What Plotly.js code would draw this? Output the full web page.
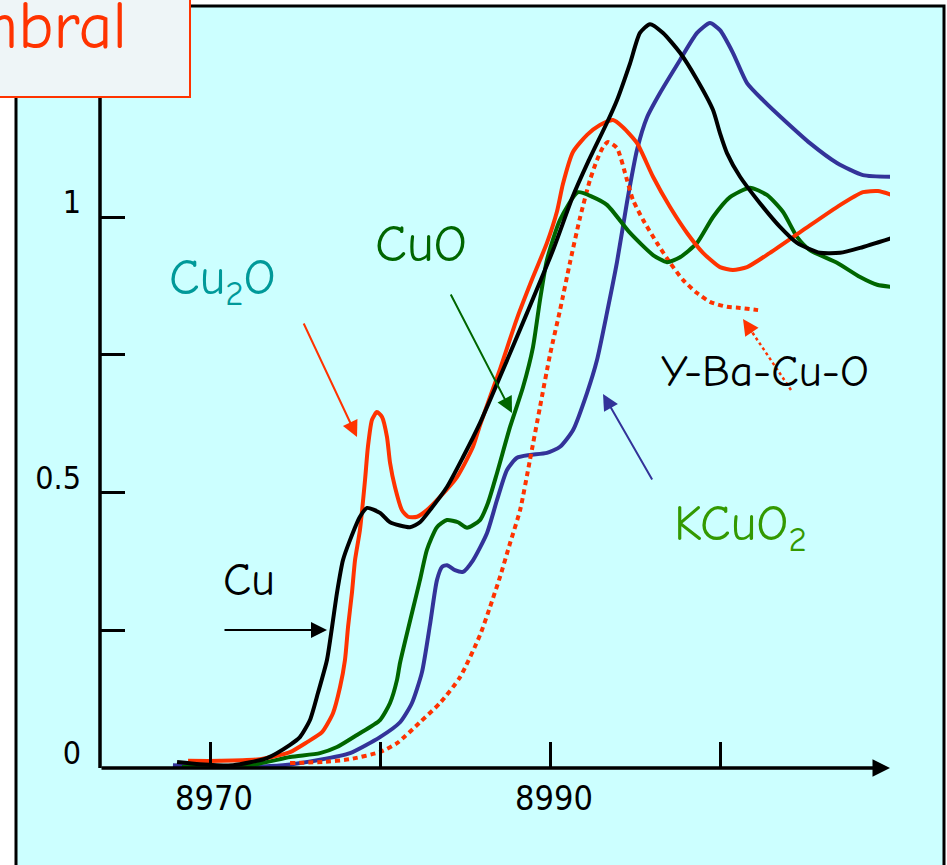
<!DOCTYPE html>
<html>
<head>
<meta charset="utf-8">
<script src="https://cdn.plot.ly/plotly-3.0.1.min.js"></script>
<style>html,body{margin:0;padding:0;background:#fff;}#chart{width:947px;height:865px;}</style>
</head>
<body>
<div id="chart"></div>
<script>
// ---- data (energy in eV, normalised absorption) ----
const cuX = [8968.06, 8969.41, 8971.35, 8973.35, 8974.71, 8975.29, 8975.88, 8976.35, 8976.88, 8977.18, 8977.47, 8977.82, 8978.24, 8978.82, 8979.24, 8980.0, 8980.59, 8981.76, 8982.35, 8982.94, 8983.94, 8984.88, 8985.88, 8987.06, 8988.65, 8990.18, 8991.35, 8992.24, 8993.35, 8993.94, 8994.71, 8995.29, 8995.88, 8996.65, 8997.65, 8998.65, 8999.59, 9000.0, 9000.41, 9001.18, 9002.35, 9003.53, 9004.53, 9005.88, 9007.06, 9008.24, 9010.12];
const cuY = [0.011, 0.007, 0.005, 0.018, 0.042, 0.056, 0.087, 0.136, 0.196, 0.256, 0.318, 0.377, 0.414, 0.456, 0.472, 0.463, 0.446, 0.437, 0.446, 0.468, 0.510, 0.564, 0.626, 0.710, 0.826, 0.940, 1.038, 1.100, 1.171, 1.212, 1.279, 1.334, 1.350, 1.334, 1.298, 1.249, 1.194, 1.152, 1.116, 1.073, 1.025, 0.982, 0.953, 0.935, 0.935, 0.944, 0.962];

const cu2oX = [8968.71, 8970.59, 8972.94, 8974.71, 8975.71, 8976.59, 8977.24, 8977.65, 8977.94, 8978.12, 8978.35, 8978.53, 8978.82, 8979.12, 8979.29, 8979.53, 8979.82, 8980.12, 8980.41, 8980.59, 8980.88, 8981.29, 8981.65, 8982.18, 8982.76, 8983.53, 8984.53, 8985.47, 8985.88, 8987.06, 8988.06, 8989.0, 8989.82, 8990.41, 8990.76, 8991.35, 8992.18, 8992.94, 8993.71, 8994.29, 8995.12, 8996.06, 8997.06, 8998.06, 8999.0, 9000.0, 9000.76, 9001.59, 9002.94, 9004.88, 9006.88, 9008.41, 9009.29, 9010.12];
const cu2oY = [0.013, 0.013, 0.016, 0.029, 0.047, 0.065, 0.100, 0.147, 0.196, 0.256, 0.318, 0.377, 0.432, 0.523, 0.583, 0.632, 0.646, 0.637, 0.601, 0.554, 0.510, 0.468, 0.456, 0.456, 0.468, 0.492, 0.528, 0.583, 0.622, 0.724, 0.816, 0.891, 0.953, 1.010, 1.060, 1.118, 1.149, 1.167, 1.176, 1.163, 1.134, 1.073, 1.018, 0.971, 0.935, 0.909, 0.904, 0.909, 0.935, 0.976, 1.018, 1.045, 1.047, 1.040];

const cuoX = [8968.35, 8972.35, 8974.71, 8976.47, 8977.47, 8978.65, 8980.0, 8980.59, 8981.0, 8981.18, 8982.35, 8982.76, 8983.35, 8983.94, 8984.59, 8985.12, 8985.88, 8986.35, 8986.88, 8987.65, 8988.41, 8989.0, 8989.41, 8989.82, 8990.59, 8991.65, 8992.53, 8993.35, 8994.71, 8996.06, 8996.88, 8997.65, 8998.65, 8999.59, 9000.59, 9001.76, 9002.76, 9003.71, 9004.53, 9005.29, 9006.88, 9008.24, 9009.24, 9010.12];
const cuoY = [0.002, 0.005, 0.020, 0.027, 0.038, 0.060, 0.087, 0.118, 0.160, 0.191, 0.341, 0.396, 0.437, 0.450, 0.446, 0.436, 0.450, 0.481, 0.535, 0.619, 0.691, 0.764, 0.849, 0.922, 0.995, 1.045, 1.036, 1.022, 0.971, 0.931, 0.918, 0.927, 0.953, 1.000, 1.036, 1.053, 1.040, 1.009, 0.964, 0.940, 0.917, 0.891, 0.877, 0.873];

const kcuo2X = [8967.82, 8971.18, 8974.29, 8976.47, 8978.24, 8980.0, 8981.18, 8981.88, 8982.47, 8982.94, 8983.35, 8983.65, 8983.94, 8984.41, 8984.88, 8985.47, 8986.29, 8986.88, 8987.47, 8988.06, 8988.82, 8989.82, 8990.59, 8991.35, 8992.18, 8992.76, 8993.35, 8993.94, 8994.53, 8995.12, 8995.71, 8996.47, 8997.65, 8998.65, 8999.41, 9000.0, 9000.76, 9001.59, 9002.53, 9003.94, 9005.29, 9006.88, 9008.41, 9010.12];
const kcuo2Y = [0.005, 0.002, 0.005, 0.015, 0.027, 0.056, 0.083, 0.118, 0.174, 0.260, 0.341, 0.365, 0.368, 0.359, 0.356, 0.377, 0.426, 0.486, 0.541, 0.563, 0.568, 0.572, 0.583, 0.613, 0.681, 0.740, 0.826, 0.918, 1.027, 1.122, 1.181, 1.225, 1.285, 1.334, 1.352, 1.339, 1.298, 1.243, 1.212, 1.171, 1.134, 1.098, 1.076, 1.073];

const ybcoX = [8974.71, 8976.65, 8978.24, 8980.0, 8981.0, 8982.35, 8983.53, 8984.71, 8985.88, 8986.47, 8987.06, 8987.65, 8988.24, 8988.82, 8989.41, 8990.0, 8990.59, 8991.18, 8991.76, 8992.35, 8992.76, 8993.12, 8993.41, 8993.94, 8994.53, 8994.88, 8995.47, 8996.29, 8997.06, 8997.82, 8998.65, 8999.41, 9000.41, 9001.18, 9002.24];
const ybcoY = [0.009, 0.011, 0.016, 0.029, 0.045, 0.083, 0.118, 0.165, 0.241, 0.292, 0.347, 0.408, 0.468, 0.559, 0.655, 0.750, 0.831, 0.918, 0.998, 1.067, 1.103, 1.127, 1.136, 1.125, 1.067, 1.031, 0.995, 0.953, 0.917, 0.886, 0.862, 0.846, 0.837, 0.835, 0.831];

const xTickVals = [8970, 8990];
const xTickText = ["8970", "8990"];
const xMinorTickVals = [8980, 9000];
const yTickVals = [0, 0.5, 1];
const yTickText = ["0", "0.5", "1"];
const yMinorTickVals = [0.25, 0.75];

const titleText = "Umbral";
const labelCu = "Cu";
const labelCu2O = "Cu<sub>2</sub>O";
const labelCuO = "CuO";
const labelKCuO2 = "KCuO<sub>2</sub>";
const labelYBCO = "Y-Ba-Cu-O";

// ---- styles ----
const RED = "#FF3300", GREEN = "#006600", BLUE = "#333399", BLACK = "#000000";
const LW = 4;
const comic = "Comic Sans MS, Comic Neue, DejaVu Sans, sans-serif";
const tickFont = "DejaVu Sans Condensed, Liberation Sans, sans-serif";

function line(x, y, color, dash, name) {
  return {x: x, y: y, type: "scatter", mode: "lines", name: name,
    line: {color: color, width: LW, dash: dash || "solid", shape: "spline", smoothing: 0.6},
    hoverinfo: "skip"};
}

const traces = [
  line(kcuo2X, kcuo2Y, BLUE, null, "KCuO2"),
  line(ybcoX, ybcoY, RED, "5px,4px", "Y-Ba-Cu-O"),
  line(cuoX, cuoY, GREEN, null, "CuO"),
  line(cu2oX, cu2oY, RED, null, "Cu2O"),
  line(cuX, cuY, BLACK, null, "Cu")
];

const yTop = 758 / 551;

const layout = {
  width: 947, height: 865,
  margin: {l: 100, r: 57, t: 10, b: 97, pad: 0},
  paper_bgcolor: "#ffffff",
  plot_bgcolor: "rgba(0,0,0,0)",
  showlegend: false,
  xaxis: {
    range: [8970 - 110 / 17, 9010], showgrid: false, zeroline: false, showline: false,
    tickmode: "array", tickvals: xTickVals, ticktext: xTickText,
    ticks: "inside", ticklen: 26, tickwidth: 3, tickcolor: "#000",
    minor: {tickmode: "array", tickvals: xMinorTickVals, ticks: "inside", ticklen: 26, tickwidth: 3, tickcolor: "#000", showgrid: false},
    ticklabelstandoff: 7, ticklabelshift: 4,
    tickfont: {family: tickFont, size: 34, color: "#000"}
  },
  yaxis: {
    range: [0, yTop], showgrid: false, zeroline: false, showline: false,
    tickmode: "array", tickvals: yTickVals, ticktext: yTickText,
    ticks: "inside", ticklen: 25, tickwidth: 3, tickcolor: "#000",
    minor: {tickmode: "array", tickvals: yMinorTickVals, ticks: "inside", ticklen: 25, tickwidth: 3, tickcolor: "#000", showgrid: false},
    ticklabelstandoff: 18, ticklabelshift: -15,
    tickfont: {family: tickFont, size: 32, color: "#000"}
  },
  shapes: [
    // light-cyan panel
    {type: "rect", xref: "paper", yref: "paper", layer: "below",
     x0: (16 - 100) / 790, x1: (944 - 100) / 790, y0: (768 - 880) / 758, y1: (768 - 6) / 758,
     fillcolor: "#CCFFFF", line: {color: "#000", width: 3}},
    // y axis line
    {type: "line", xref: "paper", yref: "y", x0: 0, x1: 0, y0: 0, y1: (768 - 95) / 551,
     line: {color: "#000", width: 3.5}},
    // title box
    {type: "rect", xref: "paper", yref: "paper", layer: "above",
     x0: (-10 - 100) / 790, x1: (190 - 100) / 790, y0: (768 - 97) / 758, y1: (768 + 10) / 758,
     fillcolor: "#EEF5F7", line: {color: RED, width: 2}},
    // dotted arrow shaft for Y-Ba-Cu-O
    {type: "line", xref: "x", yref: "y",
     x0: 8970 + (791 - 210) / 17, y0: (768 - 390) / 551,
     x1: 8970 + (748 - 210) / 17, y1: (768 - 326) / 551,
     line: {color: RED, width: 2.5, dash: "dot"}}
  ],
  annotations: [
    // x axis with arrow
    {x: 9010, y: 0, xref: "x", yref: "y", ax: -790, ay: 0, axref: "pixel", ayref: "pixel",
     text: "", showarrow: true, arrowhead: 2, arrowsize: 1, arrowwidth: 3.5, arrowcolor: "#000", standoff: 0},
    // title
    {xref: "paper", yref: "paper", x: (129 - 100) / 790, y: (768 - 27) / 758, xanchor: "right", yanchor: "middle",
     text: titleText, showarrow: false, font: {family: comic, size: 66, color: RED}},
    // labels
    {x: 8970 + (222 - 210) / 17, y: (768 - 281) / 551, text: labelCu2O, showarrow: false,
     font: {family: comic, size: 50, color: "#009999"}},
    {x: 8970 + (421 - 210) / 17, y: (768 - 244) / 551, text: labelCuO, showarrow: false,
     font: {family: comic, size: 52, color: GREEN}},
    {x: 8970 + (249 - 210) / 17, y: (768 - 580) / 551, text: labelCu, showarrow: false,
     font: {family: comic, size: 46, color: BLACK}},
    {x: 8970 + (765 - 210) / 17, y: (768 - 371) / 551, text: labelYBCO, showarrow: false,
     font: {family: comic, size: 45, color: BLACK}},
    {x: 8970 + (740 - 210) / 17, y: (768 - 527) / 551, text: labelKCuO2, showarrow: false,
     font: {family: comic, size: 50, color: "#339900"}},
    // arrows
    {x: 8970 + (357 - 210) / 17, y: (768 - 437) / 551, ax: -54, ay: -115, text: "", showarrow: true,
     arrowhead: 2, arrowsize: 1.6, arrowwidth: 2, arrowcolor: RED, standoff: 0},
    {x: 8970 + (512 - 210) / 17, y: (768 - 413) / 551, ax: -62, ay: -120, text: "", showarrow: true,
     arrowhead: 2, arrowsize: 1.6, arrowwidth: 2, arrowcolor: GREEN, standoff: 0},
    {x: 8970 + (327 - 210) / 17, y: (768 - 630) / 551, ax: -104, ay: 0, text: "", showarrow: true,
     arrowhead: 2, arrowsize: 1.6, arrowwidth: 2, arrowcolor: BLACK, standoff: 0},
    {x: 8970 + (603 - 210) / 17, y: (768 - 394) / 551, ax: 50, ay: 87, text: "", showarrow: true,
     arrowhead: 2, arrowsize: 1.6, arrowwidth: 2, arrowcolor: BLUE, standoff: 0},
    {x: 8970 + (743 - 210) / 17, y: (768 - 319) / 551, ax: 10, ay: 15, text: "", showarrow: true,
     arrowhead: 2, arrowsize: 1.6, arrowwidth: 2, arrowcolor: RED, standoff: 0}
  ]
};

Plotly.newPlot("chart", traces, layout, {displayModeBar: false, staticPlot: true});
</script>
</body>
</html>
